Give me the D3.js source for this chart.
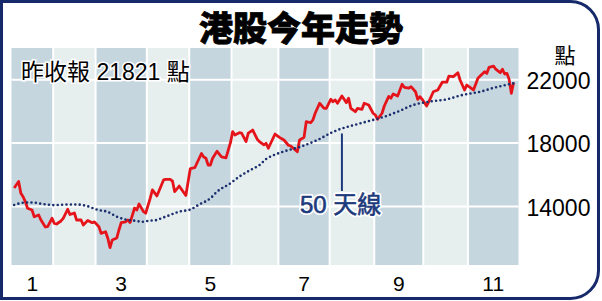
<!DOCTYPE html>
<html>
<head>
<meta charset="UTF-8">
<style>
  body { margin: 0; background: #fff; }
  svg { display: block; font-family: "Liberation Sans", Arial, "Noto Sans CJK TC", sans-serif; }
</style>
</head>
<body>
<svg></svg>
<script src="https://d3js.org/d3.v7.min.js"></script>
<script>

let width = 602;
let height = 301;

// months shown (Jan..Nov) and how many trading days each one had
let monthLabels = ["1", "2", "3", "4", "5", "6", "7", "8", "9", "10", "11"];
let monthDays = [18, 19, 23, 19, 19, 21, 23, 20, 22, 20, 22];
let yTicks = [14000, 18000, 22000];

// [trading day, close]
let closes = [
  [0,15160],[2,15570],[3,14830],[4,14610],[5,14300],[6,13880],[8,13770],[9,13350],
  [11,13460],[12,13140],[14,12700],[15,12720],[17,13250],[18,12920],[19,12890],[21,13080],
  [22,13250],[24,13820],[25,13490],[27,13580],[28,13140],[30,13140],[31,12830],[33,13110],
  [35,12970],[36,13020],[38,12720],[39,12300],[41,12400],[42,11990],[43,11400],[44,11880],
  [46,12000],[47,12510],[48,12970],[50,13030],[51,13140],[52,12980],[54,13900],[55,13770],
  [56,14150],[58,13670],[59,13570],[61,14510],[62,15040],[64,14660],[67,15670],[68,15700],
  [70,15710],[71,15600],[72,14930],[73,15100],[74,15290],[77,14690],[79,16390],[81,16440],
  [84,17340],[85,17120],[86,17040],[87,16610],[88,16610],[89,17040],[91,17480],[93,17120],
  [95,17060],[97,18020],[98,18720],[99,18510],[101,18650],[102,18620],[104,18090],[105,18620],
  [107,18820],[109,18240],[110,18090],[112,17880],[113,17980],[114,17670],[117,18570],[119,18360],
  [121,18190],[123,17860],[124,17810],[127,17450],[128,18190],[130,18360],[131,19350],[133,19280],
  [134,19460],[135,19880],[137,20510],[139,20190],[140,20190],[142,20760],[143,20610],[144,20720],
  [145,20510],[147,20970],[149,20550],[150,20830],[151,20190],[153,19980],[154,20190],[156,20130],
  [157,20510],[159,20400],[161,19880],[162,19770],[163,19500],[165,19880],[166,20340],[168,20940],
  [169,20830],[170,21100],[172,20970],[174,21710],[175,21520],[177,21460],[178,21560],[180,21240],
  [181,20760],[182,20930],[183,20760],[185,20340],[186,20610],[188,21240],[190,21350],[192,21840],
  [194,21840],[195,22230],[197,22190],[199,22440],[200,21980],[202,21350],[203,21660],[204,21560],
  [206,21350],[208,22090],[209,22230],[211,22500],[212,22400],[213,22780],[215,22860],[216,22660],
  [218,22440],[219,22660],[220,22360],[221,22400],[222,22020],[223,21140],[224,21821]
];

// 50 day moving average [trading day, value]
let ma50 = [
  [0,14090],[4,14230],[8,14250],[12,14170],[18,14080],[24,14120],[28,14120],[33,14010],
  [37,13800],[42,13650],[46,13350],[50,13170],[55,13080],[57,13030],[61,13100],[64,13140],
  [66,13250],[70,13460],[74,13670],[79,13800],[83,14120],[88,14510],[91,14930],[97,15460],
  [101,15880],[106,16300],[110,16610],[113,16990],[116,17210],[121,17470],[128,17750],
  [136,18190],[143,18700],[147,18920],[151,19080],[158,19350],[166,19660],[172,19980],
  [179,20400],[186,20610],[194,20760],[201,21030],[209,21240],[216,21520],[222,21710],[224,21770]
];

let lastClose = 21821;
let maLabelDay = 147;

let svg = d3.select("svg")
    .attr("width", width)
    .attr("height", height);

let plot = { left: 11.5, right: 518.5, top: 48, bottom: 265 };

let x = d3.scaleLinear()
    .domain([-1.2, d3.sum(monthDays) + 0.2])
    .range([plot.left, plot.right]);

let y = d3.scaleLinear()
    .domain([10300, 24000])
    .range([plot.bottom, plot.top]);

// month columns
let cum = d3.cumsum(monthDays);
let edges = [x.domain()[0]].concat(Array.from(cum.slice(0, -1), c => c - 0.5), [x.domain()[1]]);
let months = monthLabels.map((m, i) => ({ label: m, i: i, x0: edges[i], x1: edges[i + 1] }));

svg.append("g")
  .selectAll("rect")
  .data(months)
  .enter()
  .append("rect")
    .attr("x", d => x(d.x0))
    .attr("y", plot.top)
    .attr("width", d => x(d.x1) - x(d.x0))
    .attr("height", plot.bottom - plot.top)
    .attr("fill", d => d.i % 2 == 0 ? "#c6d6df" : "#e6eeee");

// white grid
svg.append("g")
  .selectAll("line")
  .data(edges.slice(1, -1))
  .enter()
  .append("line")
    .attr("x1", d => x(d)).attr("x2", d => x(d))
    .attr("y1", plot.top).attr("y2", plot.bottom)
    .attr("stroke", "#fff").attr("stroke-width", 2);

svg.append("g")
  .selectAll("line")
  .data(yTicks)
  .enter()
  .append("line")
    .attr("x1", plot.left).attr("x2", plot.right)
    .attr("y1", d => y(d)).attr("y2", d => y(d))
    .attr("stroke", "#fff").attr("stroke-width", 2);

// y axis on the right
let yAxis = svg.append("g")
    .attr("transform", "translate(" + plot.right + ",0)")
    .call(d3.axisRight(y).tickValues(yTicks).tickSize(0).tickPadding(8).tickFormat(d3.format("d")));
yAxis.select(".domain").remove();
yAxis.selectAll("text")
    .attr("font-size", 23)
    .attr("font-family", "Liberation Sans, Arial, sans-serif")
    .attr("fill", "#000")
    .attr("dy", "0.38em");

svg.append("text")
    .attr("x", 565).attr("y", 63)
    .attr("text-anchor", "middle")
    .attr("font-size", 21)
    .attr("font-family", "Noto Sans CJK TC")
    .text("點");

// month labels (odd months only)
svg.append("g")
  .selectAll("text")
  .data(months.filter(d => d.i % 2 == 0))
  .enter()
  .append("text")
    .attr("x", d => x((d.x0 + d.x1) / 2))
    .attr("y", 291)
    .attr("text-anchor", "middle")
    .attr("font-size", 21)
    .text(d => d.label);

// close line
let line = d3.line()
    .x(d => x(d[0]))
    .y(d => y(d[1]));

svg.append("path")
    .datum(closes)
    .attr("fill", "none")
    .attr("stroke", "#e5141b")
    .attr("stroke-width", 2.8)
    .attr("stroke-linejoin", "round")
    .attr("d", line);

// 50 day line, dotted
svg.append("path")
    .datum(ma50)
    .attr("fill", "none")
    .attr("stroke", "#1b2f6e")
    .attr("stroke-width", 2.6)
    .attr("stroke-linecap", "round")
    .attr("stroke-dasharray", "0 4.4")
    .attr("d", d3.line().curve(d3.curveMonotoneX).x(d => x(d[0])).y(d => y(d[1])));

// pointer + label
let maAt = ma50.find(d => d[0] == maLabelDay);
svg.append("line")
    .attr("x1", x(maLabelDay)).attr("x2", x(maLabelDay))
    .attr("y1", y(maAt[1]) + 5).attr("y2", 191)
    .attr("stroke", "#1d3a7c").attr("stroke-width", 2);

let maLabel = svg.append("g")
    .attr("font-size", 24)
    .attr("transform", "translate(300,213)");
maLabel.append("text")
    .attr("fill", "none")
    .attr("stroke", "#fff").attr("stroke-width", 4)
    .attr("stroke-linejoin", "round")
    .text("50 天線");
maLabel.append("text")
    .attr("fill", "#1d3a7c")
    .attr("stroke", "#1d3a7c").attr("stroke-width", 0.6)
    .text("50 天線");

// last close note
svg.append("text")
    .attr("x", 21).attr("y", 80)
    .attr("font-size", 23)
    .attr("fill", "#000")
    .attr("stroke", "#fff").attr("stroke-width", 3)
    .attr("paint-order", "stroke")
    .text("昨收報 " + lastClose + " 點");

// title
svg.append("text")
    .attr("x", 301).attr("y", 41)
    .attr("text-anchor", "middle")
    .attr("font-family", "Noto Sans CJK TC")
    .attr("font-weight", 900)
    .attr("font-size", 34)
    .attr("stroke", "#000").attr("stroke-width", 0.8)
    .text("港股今年走勢");

// frame with rounded right corners
let r = 28;
svg.append("path")
    .attr("fill", "none")
    .attr("stroke", "#15296b")
    .attr("stroke-width", 3)
    .attr("d", "M1.5,1.5 H" + (598.5 - r) + " A" + r + "," + r + " 0 0 1 598.5," + (1.5 + r) +
               " V" + (298.5 - r) + " A" + r + "," + r + " 0 0 1 " + (598.5 - r) + ",298.5 H1.5 Z");

</script>
</body>
</html>
